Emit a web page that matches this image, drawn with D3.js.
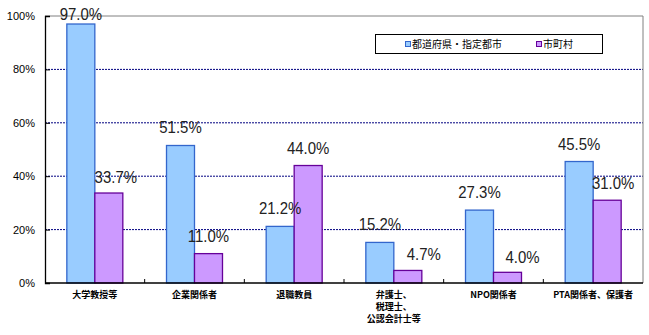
<!DOCTYPE html>
<html><head><meta charset="utf-8">
<script src="https://cdn.jsdelivr.net/npm/d3@7"></script>
<style>
html,body{margin:0;padding:0;background:#fff;}
svg{display:block;}
</style></head>
<body>
<svg id="chart" width="649" height="335"></svg>
<script>
const categories = ["大学教授等", "企業関係者", "退職教員", "弁護士、\n税理士、\n公認会計士等", "NPO関係者", "PTA関係者、保護者"];
const seriesNames = ["都道府県・指定都市", "市町村"];
const prefValues = [97.0, 51.5, 21.2, 15.2, 27.3, 45.5];
const muniValues = [33.7, 11.0, 44.0, 4.7, 4.0, 31.0];
const yTicks = [0, 20, 40, 60, 80, 100];

// label nudges (manual placement in the original)
const muniLabelDx = [7, 0, 0, 16, 15, 6];
const muniLabelGap = [10, 12, 12, 10, 9, 11];
const prefLabelGap = [12, 12, 12, 12, 12, 12];

const colors = {fill: ["#99CCFF", "#CC99FF"], stroke: ["#3366CC", "#660099"]};
const svg = d3.select("#chart");
const L = 45, R = 643, T = 16, B = 283;

const x0 = d3.scaleBand().domain(categories).range([L, R]).paddingInner(0).paddingOuter(0);
const x1 = d3.scaleBand().domain(seriesNames).range([0, x0.bandwidth()]).paddingInner(0).paddingOuter(0.78);
const y = d3.scaleLinear().domain([0, 100]).range([B, T]);

// gridlines
svg.append("g").selectAll("line").data(yTicks.filter(d => d > 0 && d < 100)).join("line")
  .attr("x1", L).attr("x2", R).attr("y1", d => y(d)).attr("y2", d => y(d))
  .attr("stroke", "#000080").attr("stroke-width", 1).attr("stroke-dasharray", "2,1");
// plot border top/right
svg.append("path").attr("d", `M${L},${y(100)}H${R}V${B}`).attr("fill", "none").attr("stroke", "#808080").attr("stroke-width", 1);

// bars
const data = categories.map((c, i) => ({c, i, vals: [prefValues[i], muniValues[i]]}));
const groups = svg.append("g").selectAll("g").data(data).join("g")
  .attr("transform", d => `translate(${x0(d.c)},0)`);
groups.selectAll("rect").data(d => d.vals.map((v, k) => ({v, k, s: seriesNames[k]}))).join("rect")
  .attr("x", d => x1(d.s)).attr("width", x1.bandwidth())
  .attr("y", d => y(d.v)).attr("height", d => B - y(d.v))
  .attr("fill", d => colors.fill[d.k]).attr("stroke", d => colors.stroke[d.k]).attr("stroke-width", 1.3);

// value labels
const lblFont = "'Liberation Sans',Arial,sans-serif";
groups.each(function(d) {
  const g = d3.select(this);
  d.vals.forEach((v, k) => {
    const cx = x1(seriesNames[k]) + x1.bandwidth() / 2 + (k === 1 ? muniLabelDx[d.i] : 0);
    const gap = k === 0 ? prefLabelGap[d.i] : muniLabelGap[d.i];
    const by = Math.max(y(v) - gap, 20);
    const t = g.append("text").attr("x", cx).attr("y", by).attr("text-anchor", "middle")
      .attr("font-family", lblFont).attr("font-size", 17).attr("fill", "#222")
      .text(v.toFixed(1) + "%");
    const w = t.node().getComputedTextLength();
    t.attr("textLength", w * 0.88).attr("lengthAdjust", "spacingAndGlyphs");
  });
});

// axes
const yAxis = svg.append("g").attr("transform", `translate(${L},0)`)
  .call(d3.axisLeft(y).tickValues(yTicks).tickFormat(d => d + "%").tickSize(-5).tickPadding(10));
yAxis.select(".domain").attr("stroke", "#000").attr("stroke-width", 1.3);
yAxis.selectAll(".tick line").attr("stroke", "#000");
yAxis.selectAll("text").attr("font-family", "'Liberation Sans',Arial,sans-serif").attr("font-size", 11).attr("fill", "#000");

const xb = d3.range(categories.length + 1).map(i => L + i * x0.step());
const xAxis = svg.append("g");
xAxis.append("line").attr("x1", L).attr("x2", R).attr("y1", B).attr("y2", B).attr("stroke", "#000").attr("stroke-width", 1.3);
xAxis.selectAll("line.tk").data(xb.slice(1, -1)).join("line").attr("class", "tk")
  .attr("x1", d => d).attr("x2", d => d).attr("y1", B).attr("y2", B - 4).attr("stroke", "#000");
xAxis.selectAll("text").data(categories).join("text")
  .attr("x", d => x0(d) + x0.bandwidth() / 2).attr("y", 298)
  .attr("text-anchor", "middle").attr("font-family", "'Noto Sans CJK JP',sans-serif")
  .attr("font-size", 9).attr("font-weight", "bold").attr("fill", "#000")
  .each(function(d) {
    const t = d3.select(this);
    d.split("\n").forEach((line, i) => {
      t.append("tspan").attr("x", x0(d) + x0.bandwidth() / 2).attr("dy", i === 0 ? 0 : 12).text(line);
    });
  });

// legend
const lg = svg.append("g");
lg.append("rect").attr("x", 375.5).attr("y", 34.5).attr("width", 227).attr("height", 19)
  .attr("fill", "#fff").attr("stroke", "#000").attr("stroke-width", 1);
const legX = [405, 536];
seriesNames.forEach((s, k) => {
  lg.append("rect").attr("x", legX[k] + 0.5).attr("y", 41.5).attr("width", 5).attr("height", 5)
    .attr("fill", colors.fill[k]).attr("stroke", colors.stroke[k]).attr("stroke-width", 1);
  lg.append("text").attr("x", legX[k] + 7).attr("y", 48).attr("font-family", "'Noto Sans CJK JP',sans-serif")
    .attr("font-size", 10).attr("fill", "#000").text(s);
});
</script>
</body></html>
